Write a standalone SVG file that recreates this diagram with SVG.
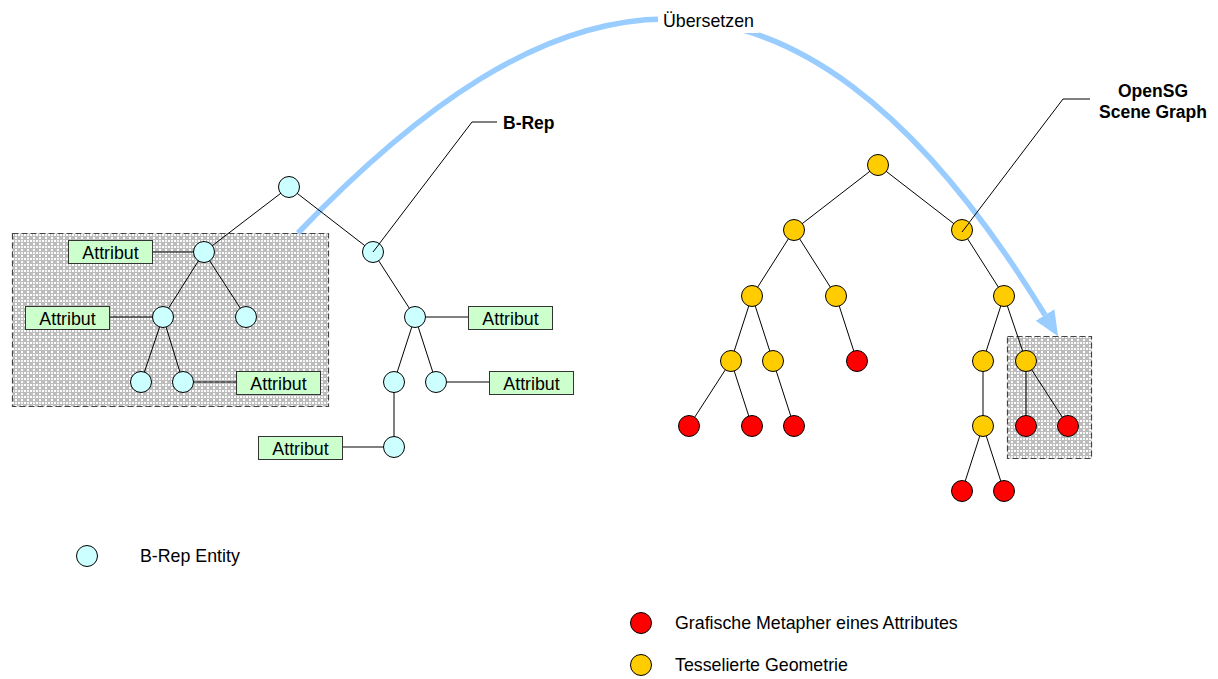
<svg xmlns="http://www.w3.org/2000/svg" width="1218" height="679" viewBox="0 0 1218 679">
  <style>
    text { font-family: "Liberation Sans", Arial, sans-serif; font-size: 17.8px; fill: #000; }
    .bold { font-weight: bold; font-size: 17.5px; }
    .edge { stroke: #000; stroke-width: 1; fill: none; }
    .brep { fill: #CCFFFF; stroke: #000; stroke-width: 1; }
    .geo { fill: #FFCC00; stroke: #000; stroke-width: 1; }
    .meta { fill: #FF0000; stroke: #000; stroke-width: 1; }
    .attr rect { fill: #CCFFCC; stroke: #333; stroke-width: 1; }
    .attr text { text-anchor: middle; }
    .hatch { fill: url(#dots); stroke: #444; stroke-width: 1.2; stroke-dasharray: 6 3; }
  </style>
  <defs>
    <pattern id="dots" width="6" height="6" patternUnits="userSpaceOnUse">
      <rect width="6" height="6" fill="#bcbcbc"/>
      <rect x="0" y="0" width="2" height="2" fill="#fff"/>
      <rect x="3" y="3" width="2" height="2" fill="#fff"/>
      <rect x="3" y="0" width="2" height="2" fill="#f4f4f4"/>
    </pattern>
    <marker id="blueHead" markerUnits="userSpaceOnUse" markerWidth="26" markerHeight="22" refX="0" refY="11" orient="auto">
      <path d="M0,0 L25,11 L0,22 z" fill="#99CCFF"/>
    </marker>
  </defs>

  <rect width="1218" height="679" fill="#fff"/>

  <!-- highlighted sub-trees -->
  <rect class="hatch" x="12.5" y="233.5" width="316" height="173"/>
  <rect class="hatch" x="1007.5" y="336.5" width="84" height="122"/>

  <!-- translation arrow -->
  <path d="M298,233 C540,-20 784,-112 1045,315" fill="none" stroke="#99CCFF" stroke-width="5.5" marker-end="url(#blueHead)"/>
  <rect x="658" y="8" width="101" height="25" fill="#fff"/>
  <text x="663" y="27">Übersetzen</text>

  <g id="connectors">
    <!-- B-Rep tree -->
    <path class="edge" d="M289,187 L204,252 M289,187 L373,252
      M204,252 L163,317 M204,252 L246,317
      M163,317 L141,382 M163,317 L183,382
      M373,252 L415,317 M415,317 L394,382 M415,317 L436,382
      M394,382 L394,447"/>
    <!-- attribute links -->
    <path class="edge" stroke="#333" d="M152,252 L194,252 M110,317 L153,317 M320,382 L173,382
      M426,317 L468,317 M446,382 L489,382 M342,447 L384,447"/>
    <!-- scene graph -->
    <path class="edge" d="M878,165 L794,230 M878,165 L962,230
      M794,230 L752,296 M794,230 L836,296
      M752,296 L731,361 M752,296 L773,361
      M836,296 L857,361
      M731,361 L689,426 M731,361 L752,426 M773,361 L794,426
      M962,230 L1004,296 M1004,296 L983,361 M1004,296 L1026,361
      M983,361 L983,426 M983,426 L962,491 M983,426 L1004,491
      M1026,361 L1026,426 M1026,361 L1068,426"/>
    <!-- callout leaders -->
    <path class="edge" d="M373,252 L472,122 L497,122"/>
    <path class="edge" d="M962,232 L1063,99 L1090,99"/>
  </g>

  <g id="brep-nodes">
    <circle class="brep" cx="289" cy="187" r="10.5"/>
    <circle class="brep" cx="204" cy="252" r="10.5"/>
    <circle class="brep" cx="373" cy="252" r="10.5"/>
    <circle class="brep" cx="163" cy="317" r="10.5"/>
    <circle class="brep" cx="246" cy="317" r="10.5"/>
    <circle class="brep" cx="141" cy="382" r="10.5"/>
    <circle class="brep" cx="183" cy="382" r="10.5"/>
    <circle class="brep" cx="415" cy="317" r="10.5"/>
    <circle class="brep" cx="394" cy="382" r="10.5"/>
    <circle class="brep" cx="436" cy="382" r="10.5"/>
    <circle class="brep" cx="394" cy="447" r="10.5"/>
  </g>
  <!-- leader tip drawn over its node -->
  <path class="edge" d="M373,252 L380,243"/>

  <g id="attr1" class="attr"><rect x="68.5" y="240.5" width="84" height="23"/><text x="110.5" y="258.5">Attribut</text></g>
  <g id="attr2" class="attr"><rect x="25.5" y="306.5" width="84" height="23"/><text x="67.5" y="324.5">Attribut</text></g>
  <g id="attr3" class="attr"><rect x="236.5" y="371.5" width="84" height="23"/><text x="278.5" y="389.5">Attribut</text></g>
  <g id="attr4" class="attr"><rect x="468.5" y="306.5" width="84" height="23"/><text x="510.5" y="324.5">Attribut</text></g>
  <g id="attr5" class="attr"><rect x="489.5" y="371.5" width="84" height="23"/><text x="531.5" y="389.5">Attribut</text></g>
  <g id="attr6" class="attr"><rect x="258.5" y="436.5" width="84" height="23"/><text x="300.5" y="454.5">Attribut</text></g>

  <g id="scene-nodes">
    <circle class="geo" cx="878" cy="165" r="10.5"/>
    <circle class="geo" cx="794" cy="230" r="10.5"/>
    <circle class="geo" cx="962" cy="230" r="10.5"/>
    <circle class="geo" cx="752" cy="296" r="10.5"/>
    <circle class="geo" cx="836" cy="296" r="10.5"/>
    <circle class="geo" cx="1004" cy="296" r="10.5"/>
    <circle class="geo" cx="731" cy="361" r="10.5"/>
    <circle class="geo" cx="773" cy="361" r="10.5"/>
    <circle class="meta" cx="857" cy="361" r="10.5"/>
    <circle class="geo" cx="983" cy="361" r="10.5"/>
    <circle class="geo" cx="1026" cy="361" r="10.5"/>
    <circle class="meta" cx="689" cy="426" r="10.5"/>
    <circle class="meta" cx="752" cy="426" r="10.5"/>
    <circle class="meta" cx="794" cy="426" r="10.5"/>
    <circle class="geo" cx="983" cy="426" r="10.5"/>
    <circle class="meta" cx="1026" cy="426" r="10.5"/>
    <circle class="meta" cx="1068" cy="426" r="10.5"/>
    <circle class="meta" cx="962" cy="491" r="10.5"/>
    <circle class="meta" cx="1004" cy="491" r="10.5"/>
  </g>
  <path class="edge" d="M962,232 L969,223"/>

  <g id="labels">
    <text class="bold" x="503" y="129">B-Rep</text>
    <text class="bold" x="1153" y="97" text-anchor="middle">OpenSG</text>
    <text class="bold" x="1153" y="118" text-anchor="middle">Scene Graph</text>
  </g>

  <g id="legend">
    <circle class="brep" cx="87" cy="556" r="10.5"/>
    <text x="140" y="562">B-Rep Entity</text>
    <circle class="meta" cx="641" cy="623" r="10.5"/>
    <text x="675" y="629">Grafische Metapher eines Attributes</text>
    <circle class="geo" cx="641" cy="665" r="10.5"/>
    <text x="675" y="671">Tesselierte Geometrie</text>
  </g>
</svg>
